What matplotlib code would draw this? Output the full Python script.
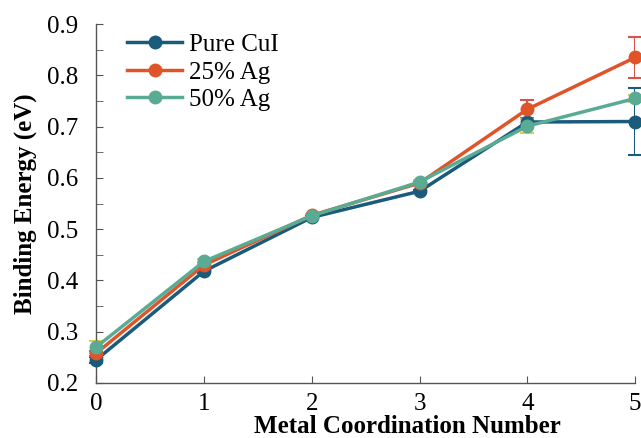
import matplotlib
matplotlib.use("Agg")
import matplotlib.pyplot as plt
from matplotlib.ticker import MultipleLocator

plt.rcParams['font.family'] = ['Liberation Serif', 'DejaVu Serif']

coord = [0, 1, 2, 3, 4, 5]
pure_cui = [0.245, 0.418, 0.523, 0.574, 0.709, 0.710]
pure_err = [0.006, 0.004, 0.003, 0.003, 0.006, 0.066]
ag25 = [0.258, 0.430, 0.527, 0.590, 0.734, 0.835]
ag25_err = [0.005, 0.004, 0.003, 0.003, 0.018, 0.040]
ag50 = [0.270, 0.437, 0.526, 0.592, 0.701, 0.755]
ag50_err = [0.012, 0.004, 0.003, 0.003, 0.013, 0.006]

labels = ['Pure CuI', '25% Ag', '50% Ag']
colors = ['#1a5a7a', '#e0542a', '#5aab94']
err_colors = ['#1a5a7a', '#d9534a', '#e8c84a']

fig = plt.figure(figsize=(6.41, 4.38), dpi=100)
ax = fig.add_axes([0.150, 0.1256, 0.841, 0.8194])

for ys, es, lab, c, ec in zip([pure_cui, ag25, ag50], [pure_err, ag25_err, ag50_err], labels, colors, err_colors):
    ax.errorbar(coord, ys, yerr=es, fmt='none', ecolor=ec, elinewidth=1.5, capsize=5, capthick=1.5, zorder=2)
    ax.plot(coord, ys, '-o', color=c, lw=2.5, ms=9, label=lab, zorder=3)

ax.set_xlim(0, 5)
ax.set_ylim(0.2, 0.9)
ax.xaxis.set_major_locator(MultipleLocator(1))
ax.yaxis.set_major_locator(MultipleLocator(0.1))
ax.yaxis.set_minor_locator(MultipleLocator(0.05))
ax.tick_params(axis='both', which='both', direction='in', labelsize=18, color='#555555')
ax.tick_params(axis='both', which='major', length=5)
ax.tick_params(axis='y', which='minor', length=5)
ax.tick_params(axis='y', pad=13)
ax.tick_params(axis='x', pad=7)
ax.yaxis.set_major_formatter(plt.FuncFormatter(lambda v, p: f"{v:.1f}"))
for s in ['top', 'right']:
    ax.spines[s].set_visible(False)
for s in ['left', 'bottom']:
    ax.spines[s].set_color('#555555')
    ax.spines[s].set_linewidth(1.0)
for l in ax.lines:
    l.set_clip_on(False)

ax.set_xlabel('Metal Coordination Number', fontsize=18, fontweight='bold')
ax.xaxis.set_label_coords(0.577, -0.088)
ax.set_ylabel('Binding Energy (eV)', fontsize=18, fontweight='bold', labelpad=7)

leg = ax.legend(loc='upper left', bbox_to_anchor=(0.03, 1.015), frameon=False, fontsize=18,
                handlelength=2.2, handletextpad=0.25, labelspacing=0.2, borderaxespad=0.2)

fig.savefig('out.png', dpi=100)
